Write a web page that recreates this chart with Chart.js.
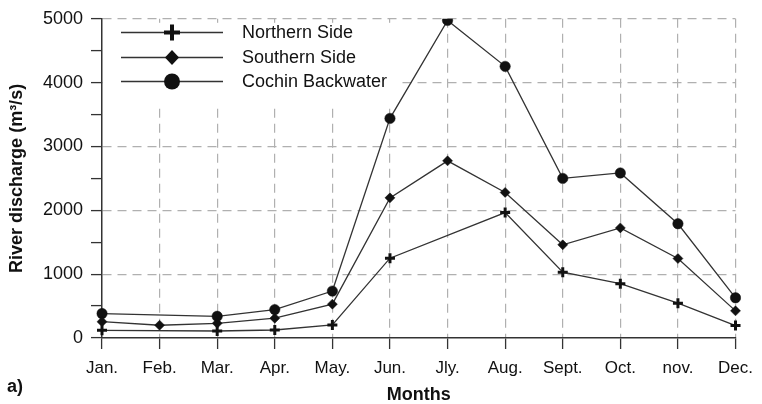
<!DOCTYPE html>
<html>
<head>
<meta charset="utf-8">
<script src="https://cdn.jsdelivr.net/npm/chart.js@4/dist/chart.umd.min.js"></script>
<style>
html,body{margin:0;padding:0;background:#fff;}
#wrap{width:762px;height:404px;position:relative;}
</style>
</head>
<body>
<div id="wrap"><canvas id="c" width="762" height="404"></canvas></div>
<script>
const months = ["Jan.", "Feb.", "Mar.", "Apr.", "May.", "Jun.", "Jly.", "Aug.", "Sept.", "Oct.", "nov.", "Dec."];
const northernSide = [120, null, 110, 125, 205, 1250, null, 1965, 1030, 850, 545, 195];
const southernSide = [255, 200, 230, 310, 530, 2195, 2775, 2280, 1460, 1725, 1245, 425];
const cochinBackwater = [383, null, 340, 445, 735, 3440, 4975, 4255, 2500, 2585, 1790, 630];
const seriesNames = ["Northern Side", "Southern Side", "Cochin Backwater"];
const yTickValues = [0, 1000, 2000, 3000, 4000, 5000];

const FONT = "'Liberation Sans', Arial, Helvetica, sans-serif";
const INK = '#111';
const LINE = '#333';

const legendPlugin = {
  id: 'lineLegend',
  beforeDatasetsDraw(chart) {
    const ctx = chart.ctx;
    const a = chart.chartArea;
    ctx.save();
    ctx.fillStyle = '#fff';
    ctx.fillRect(a.left + 1, a.top + 4, 294, 82);
    ctx.restore();
  },
  afterDraw(chart) {
    const ctx = chart.ctx;
    const rows = [32.5, 57.5, 81.5];
    ctx.save();
    chart.data.datasets.forEach((ds, i) => {
      const y = rows[i];
      ctx.strokeStyle = LINE;
      ctx.lineWidth = 1.3;
      ctx.beginPath();
      ctx.moveTo(121, y);
      ctx.lineTo(223, y);
      ctx.stroke();
      const x = 172;
      ctx.fillStyle = INK;
      ctx.strokeStyle = INK;
      if (ds.pointStyle === 'cross') {
        ctx.lineWidth = 4;
        ctx.beginPath();
        ctx.moveTo(x - 8, y); ctx.lineTo(x + 8, y);
        ctx.moveTo(x, y - 8); ctx.lineTo(x, y + 8);
        ctx.stroke();
      } else if (ds.pointStyle === 'rectRot') {
        ctx.beginPath();
        ctx.moveTo(x, y - 7.5); ctx.lineTo(x + 7, y); ctx.lineTo(x, y + 7.5); ctx.lineTo(x - 7, y);
        ctx.closePath();
        ctx.fill();
      } else {
        ctx.beginPath();
        ctx.arc(x, y, 8, 0, Math.PI * 2);
        ctx.fill();
      }
      ctx.fillStyle = INK;
      ctx.font = "18px " + FONT;
      ctx.textAlign = 'left';
      ctx.textBaseline = 'middle';
      ctx.fillText(ds.label, 242, y + 1);
    });
    ctx.font = "bold 18px " + FONT;
    ctx.textAlign = 'left';
    ctx.textBaseline = 'middle';
    ctx.fillStyle = INK;
    ctx.fillText("a)", 7, 387);
    ctx.restore();
  }
};

const common = {
  borderColor: LINE,
  borderWidth: 1.3,
  pointBackgroundColor: INK,
  pointBorderColor: INK,
  spanGaps: true,
  tension: 0,
  fill: false
};

new Chart(document.getElementById('c'), {
  type: 'line',
  data: {
    labels: months,
    datasets: [
      Object.assign({}, common, { label: seriesNames[0], data: northernSide, pointStyle: 'cross', pointRadius: 5, pointBorderWidth: 3 }),
      Object.assign({}, common, { label: seriesNames[1], data: southernSide, pointStyle: 'rectRot', pointRadius: 5, pointBorderWidth: 0.5 }),
      Object.assign({}, common, { label: seriesNames[2], data: cochinBackwater, pointStyle: 'circle', pointRadius: 5.2, pointBorderWidth: 0.5 })
    ]
  },
  options: {
    responsive: false,
    animation: false,
    devicePixelRatio: 1,
    layout: { padding: { top: 16, right: 18, left: 0, bottom: 0 } },
    plugins: { legend: { display: false }, tooltip: { enabled: false }, title: { display: false } },
    scales: {
      x: {
        type: 'category',
        offset: false,
        afterFit(s) { s.height = 66; },
        grid: {
          color: (c) => c.index === 0 ? 'rgba(0,0,0,0)' : '#b0b0b0',
          lineWidth: 1.2,
          borderDash: [9, 6],
          tickColor: LINE,
          tickLength: 11,
          tickWidth: 1.3,
          drawTicks: true
        },
        border: { display: true, color: LINE, width: 1.5, dash: [9, 6] },
        ticks: {
          color: INK,
          font: { family: FONT, size: 17 },
          padding: 9,
          maxRotation: 0,
          autoSkip: false
        },
        title: {
          display: true,
          text: 'Months',
          color: INK,
          font: { family: FONT, size: 18, weight: 'bold', lineHeight: 1 },
          padding: { top: 0, bottom: 0 }
        }
      },
      y: {
        min: 0,
        max: 5000,
        afterFit(s) { s.width = 102; },
        ticks: {
          stepSize: 500,
          color: INK,
          font: { family: FONT, size: 18 },
          padding: 8,
          callback: (v) => yTickValues.includes(v) ? String(v) : ''
        },
        grid: {
          color: (c) => (c.tick && c.tick.value % 1000 === 0 && c.tick.value !== 0) ? '#b0b0b0' : 'rgba(0,0,0,0)',
          lineWidth: 1.2,
          borderDash: [9, 6],
          tickColor: LINE,
          tickLength: 11,
          tickWidth: 1.3,
          drawTicks: true
        },
        border: { display: true, color: LINE, width: 1.5, dash: [9, 6] },
        title: {
          display: true,
          text: 'River discharge (m³/s)',
          color: INK,
          font: { family: FONT, size: 18, weight: 'bold', lineHeight: 1 },
          padding: { top: 8, bottom: 0 }
        }
      }
    }
  },
  plugins: [legendPlugin]
});
</script>
</body>
</html>
